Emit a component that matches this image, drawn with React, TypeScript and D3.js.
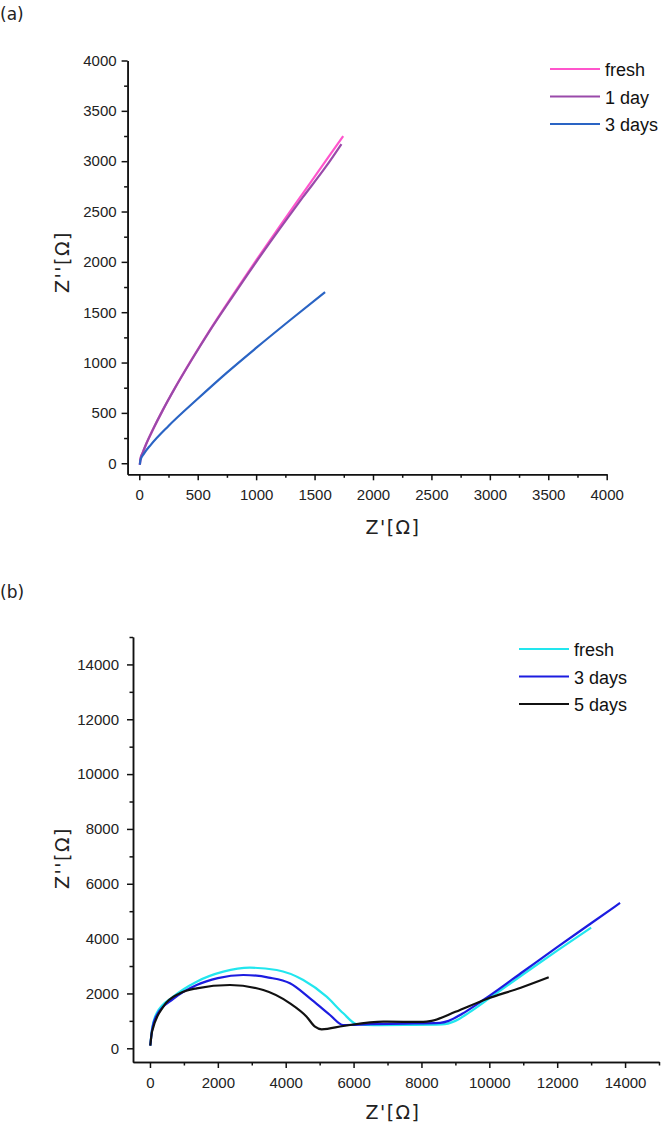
import React, { useEffect, useRef } from 'react';
import * as d3 from 'd3';

// panel (a): Nyquist plots, values in Ohm
const freshA: [number, number][] = [[5, -15], [10, 43], [30, 107], [60, 193], [120, 342], [200, 525], [300, 737], [450, 1034], [600, 1316], [800, 1670], [1000, 2015], [1200, 2350], [1400, 2680], [1600, 3010], [1745, 3250]];
const day1A: [number, number][] = [[5, -15], [10, 43], [30, 107], [60, 193], [120, 342], [200, 525], [300, 736], [450, 1030], [600, 1310], [800, 1658], [1000, 1998], [1200, 2325], [1400, 2642], [1600, 2950], [1730, 3170]];
const days3A: [number, number][] = [[5, -15], [10, 30], [40, 95], [100, 185], [250, 370], [500, 640], [750, 900], [1000, 1145], [1300, 1430], [1590, 1700]];

// panel (b)
const freshB: [number, number][] = [[10, 100], [60, 700], [197, 1276], [687, 1882], [1376, 2429], [2161, 2794], [2947, 2940], [3734, 2856], [4518, 2491], [5206, 1882], [5697, 1276], [6092, 880], [6600, 840], [7500, 850], [8600, 870], [9000, 1000], [9400, 1300], [10000, 1820], [11000, 2700], [12000, 3560], [13000, 4400]];
const days3B: [number, number][] = [[10, 100], [60, 650], [197, 1200], [687, 1800], [1376, 2308], [2000, 2560], [2750, 2673], [3500, 2580], [4126, 2370], [4716, 1823], [5305, 1214], [5697, 850], [6500, 880], [7500, 900], [8550, 930], [8800, 1000], [9200, 1260], [9700, 1660], [10000, 1910], [11000, 2800], [12000, 3690], [13000, 4560], [13852, 5300]];
const days5B: [number, number][] = [[10, 100], [60, 600], [393, 1517], [884, 2006], [1376, 2188], [2358, 2308], [3340, 2126], [4126, 1641], [4617, 1153], [4863, 788], [5059, 693], [5697, 813], [6876, 970], [8055, 960], [8300, 1000], [9000, 1330], [9922, 1800], [10906, 2200], [11750, 2590]];

const ticksA = d3.range(0, 4001, 500);
const minorA = d3.range(250, 4000, 500);
const ticksB = d3.range(0, 14001, 2000);
const minorB = d3.range(1000, 15001, 2000);

const seriesA = [
  { name: 'fresh', data: freshA, color: '#ff55cc' },
  { name: '1 day', data: day1A, color: '#9a4aaa' },
  { name: '3 days', data: days3A, color: '#2a64c4' },
];
const seriesB = [
  { name: 'fresh', data: freshB, color: '#22e6ee' },
  { name: '3 days', data: days3B, color: '#1c1ce0' },
  { name: '5 days', data: days5B, color: '#111111' },
];

const App = () => {
  const ref = useRef<SVGSVGElement | null>(null);

  useEffect(() => {
    const svg = d3.select(ref.current);
    svg.selectAll('*').remove();

    const panel = (cfg: any) => {
      const { x, y, ticks, minor, series, legendX, legendY, xTitleY, yTitleY, label, labelY, yPad } = cfg;
      const g = svg.append('g');

      // minor ticks first
      g.append('g').attr('transform', `translate(0,${y.range()[0]})`)
        .call(d3.axisBottom(x).tickValues(minor).tickSize(3.5).tickSizeOuter(0).tickFormat(() => ''));
      g.append('g').attr('transform', `translate(${x.range()[0]},0)`)
        .call(d3.axisLeft(y).tickValues(minor).tickSize(3.5).tickSizeOuter(0).tickFormat(() => ''));

      const xa = g.append('g').attr('transform', `translate(0,${y.range()[0]})`)
        .call(d3.axisBottom(x).tickValues(ticks).tickSize(6).tickSizeOuter(0).tickPadding(9).tickFormat(d3.format('d')));
      const ya = g.append('g').attr('transform', `translate(${x.range()[0]},0)`)
        .call(d3.axisLeft(y).tickValues(ticks).tickSize(6).tickSizeOuter(0).tickPadding(yPad).tickFormat(d3.format('d')));

      g.selectAll('.domain, .tick line').attr('stroke', '#111').attr('stroke-width', 1.5);
      [xa, ya].forEach(a => a.selectAll('text')
        .attr('font-family', 'Liberation Sans, Arial, sans-serif')
        .attr('font-size', 15).attr('fill', '#222'));

      const line = d3.line<[number, number]>()
        .x(d => x(d[0])).y(d => y(d[1]))
        .curve(d3.curveMonotoneX);

      series.forEach((s: any) => {
        g.append('path').datum(s.data)
          .attr('d', line).attr('fill', 'none')
          .attr('stroke', s.color).attr('stroke-width', 2.2);
      });

      // legend
      series.forEach((s: any, i: number) => {
        const ly = legendY + i * 27.5;
        g.append('line').attr('x1', legendX).attr('x2', legendX + 50)
          .attr('y1', ly).attr('y2', ly).attr('stroke', s.color).attr('stroke-width', 2);
        g.append('text').attr('x', legendX + 55).attr('y', ly + 7)
          .attr('font-family', 'Liberation Sans, Arial, sans-serif')
          .attr('font-size', 18).attr('fill', '#111').text(s.name);
      });

      g.append('text').attr('x', 393).attr('y', xTitleY)
        .attr('text-anchor', 'middle').attr('font-family', 'DejaVu Sans, sans-serif')
        .attr('font-size', 19).attr('letter-spacing', 1.5).attr('fill', '#222').text("Z'[Ω]");
      g.append('text').attr('transform', `translate(69,${yTitleY}) rotate(-90)`)
        .attr('text-anchor', 'middle').attr('font-family', 'DejaVu Sans, sans-serif')
        .attr('font-size', 19).attr('letter-spacing', 1.5).attr('fill', '#222').text("Z''[Ω]");
      g.append('text').attr('x', 0).attr('y', labelY)
        .attr('font-family', 'DejaVu Sans, sans-serif')
        .attr('font-size', 17).attr('fill', '#222').text(label);
    };

    panel({
      x: d3.scaleLinear().domain([-100, 4000]).range([127.6, 606.7]),
      y: d3.scaleLinear().domain([-110, 4000]).range([474.3, 60.5]),
      ticks: ticksA, minor: minorA, series: seriesA, yPad: 5,
      legendX: 550, legendY: 69, xTitleY: 534, yTitleY: 262, label: '(a)', labelY: 20,
    });
    panel({
      x: d3.scaleLinear().domain([-500, 15000]).range([133, 659]),
      y: d3.scaleLinear().domain([-500, 15000]).range([1062, 637]),
      ticks: ticksB, minor: minorB, series: seriesB, yPad: 8,
      legendX: 519, legendY: 649, xTitleY: 1119, yTitleY: 858, label: '(b)', labelY: 598,
    });
  }, []);

  return (
    <div style={{ position: 'absolute', left: 0, top: 0 }}>
      <svg ref={ref} width={666} height={1129} style={{ display: 'block', background: '#fff' }} />
    </div>
  );
};

export default App;
